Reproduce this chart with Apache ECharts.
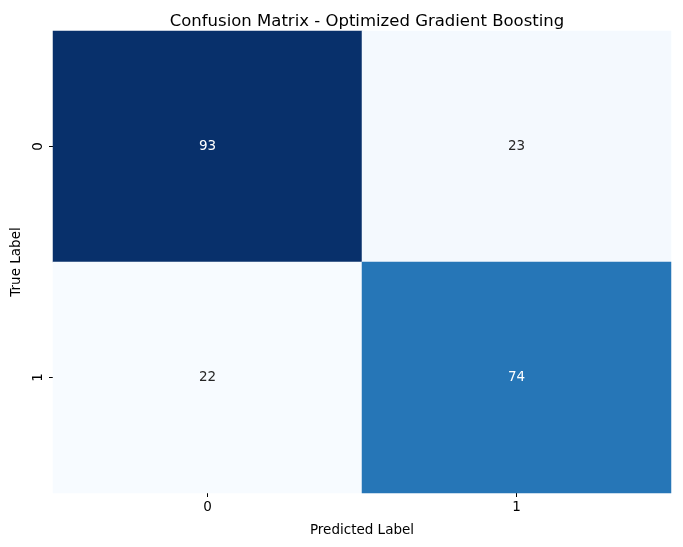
<!DOCTYPE html>
<html>
<head>
<meta charset="UTF-8">
<title>Confusion Matrix</title>
<script type="text/javascript" src="https://cdn.jsdelivr.net/npm/echarts@6/dist/echarts.min.js"></script>
<style>
	html, body { margin: 0; padding: 0; background: #fff; }
</style>
</head>
<body>

	<div id="cm" style="width:683px; height:547px"></div>
	<script type="text/javascript">
	// labels and counts (rows = true label, cols = predicted label)
	var predLabels = ['0', '1'];
	var trueLabels = ['0', '1'];
	var row0 = [93, 23];
	var row1 = [22, 74];
	var rows = [row0, row1];

	// matplotlib "Blues" stops
	var blues = ['#f7fbff','#deebf7','#c6dbef','#9ecae1','#6baed6','#4292c6','#2171b5','#08519c','#08306b'];

	var all = row0.concat(row1);
	var vmin = Math.min.apply(null, all);
	var vmax = Math.max.apply(null, all);

	var cells = [];
	rows.forEach(function(r, i){
		r.forEach(function(v, j){
			var frac = (v - vmin) / (vmax - vmin);
			cells.push({
				value: [j, i, v],
				label: { color: frac > 0.5 ? '#ffffff' : '#262626' }
			});
		});
	});

	var myChart = echarts.init(document.getElementById('cm'));
	var font = 'DejaVu Sans';

	var option = {
		animation: false,
		title: {
			text: 'Confusion Matrix - Optimized Gradient Boosting',
			left: 362,
			top: 8,
			textAlign: 'center',
			textStyle: { fontFamily: font, fontSize: 16.5, fontWeight: 'normal', color: '#000' }
		},
		grid: { left: 53, right: 12, top: 31, bottom: 54 },
		xAxis: {
			type: 'category',
			data: predLabels,
			position: 'bottom',
			name: 'Predicted Label',
			nameLocation: 'middle',
			nameGap: 30,
			nameTextStyle: { fontFamily: font, fontSize: 13.5, color: '#000' },
			axisLine: { show: false },
			axisTick: { show: true, alignWithLabel: true, length: 4, lineStyle: { color: '#000', width: 1 } },
			axisLabel: { fontFamily: font, fontSize: 13.5, color: '#000', margin: 7 },
			splitLine: { show: false },
			splitArea: { show: false }
		},
		yAxis: {
			type: 'category',
			data: trueLabels,
			inverse: true,
			name: 'True Label',
			nameLocation: 'middle',
			nameRotate: 90,
			nameGap: 30,
			nameTextStyle: { fontFamily: font, fontSize: 13.5, color: '#000' },
			axisLine: { show: false },
			axisTick: { show: true, alignWithLabel: true, length: 4, lineStyle: { color: '#000', width: 1 } },
			axisLabel: { fontFamily: font, fontSize: 13.5, color: '#000', rotate: 90, margin: 8 },
			splitLine: { show: false },
			splitArea: { show: false }
		},
		visualMap: {
			show: false,
			min: vmin,
			max: vmax,
			dimension: 2,
			inRange: { color: blues }
		},
		series: [{
			type: 'heatmap',
			data: cells,
			label: { show: true, fontFamily: font, fontSize: 13.5 },
			itemStyle: { borderWidth: 0 },
			emphasis: { disabled: true }
		}]
	};
	myChart.setOption(option);
	</script>
</body>
</html>
